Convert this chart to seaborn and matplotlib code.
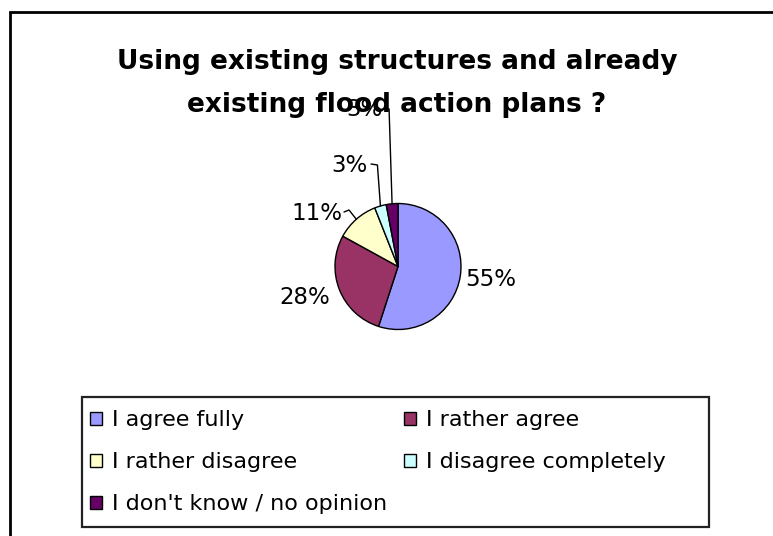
import matplotlib
matplotlib.use("Agg")
import matplotlib.pyplot as plt
from matplotlib.patches import Rectangle, Patch
import numpy as np
import seaborn as sns

# ---- data ----
categories = ["I agree fully", "I rather agree", "I rather disagree",
              "I disagree completely", "I don't know / no opinion"]
values = [55, 28, 11, 3, 3]
pct_labels = ["55%", "28%", "11%", "3%", "3%"]
title_lines = ["Using existing structures and already",
               "existing flood action plans ?"]
colors_hex = ["#9999FF", "#993366", "#FFFFCC", "#CCFFFF", "#660066"]

sns.set_theme(style="white")
plt.rcParams["font.family"] = ["DejaVu Sans"]
plt.rcParams["text.color"] = "black"
palette = sns.color_palette(colors_hex)

W, H = 773, 536
fig = plt.figure(figsize=(W / 100, H / 100), dpi=100)
ax = fig.add_axes([0, 0, 1, 1])

def Y(y):
    return H - y

cx, cy, r = 398, 266.5, 63
wedges, _ = ax.pie(values, colors=palette, startangle=90, counterclock=False,
                   center=(cx, Y(cy)), radius=r,
                   wedgeprops=dict(edgecolor="black", linewidth=1.0))
ax.set_xlim(0, W)
ax.set_ylim(0, H)
ax.set_aspect("auto")
ax.axis("off")

# label layout (pixel coords, y from top)
label_pos = [(465, 280, "left"), (330, 298, "right"), (342, 213, "right"),
             (368, 166, "right"), (383, 110, "right")]
leader = [False, False, True, True, True]
fs_lab = 16.5
for w, txt, (lx, ly, ha), ld in zip(wedges, pct_labels, label_pos, leader):
    ax.text(lx, Y(ly), txt, ha=ha, va="center", fontsize=fs_lab,
            color="black", zorder=5)
    if ld:
        mid = np.deg2rad((w.theta1 + w.theta2) / 2)
        px = cx + r * np.cos(mid)
        py = Y(cy) + r * np.sin(mid)
        if txt == "11%":
            xs = [lx + 2, lx + 7, px]
            ys = [Y(ly - 1), Y(ly - 3), py]
        else:
            xs = [lx + 3, px - 3, px]
            ys = [Y(ly - 2), Y(ly - 1), py]
        ax.plot(xs, ys, color="black", lw=1.0, zorder=4)

# title
ax.text(397.5, Y(69), title_lines[0], ha="center", va="baseline",
        fontsize=19, fontweight="bold", color="black", zorder=10)
ax.text(397, Y(112), title_lines[1], ha="center", va="baseline",
        fontsize=19, fontweight="bold", color="black", zorder=10)

# outer chart border (left & top visible)
ax.plot([9.5, 9.5, W + 5], [-5, Y(11.5), Y(11.5)], color="black", lw=2,
        solid_joinstyle="miter", zorder=1, clip_on=False)

# legend box
ax.add_patch(Rectangle((82, Y(527)), 709 - 82, 527 - 397, fill=False,
                       edgecolor="#222222", lw=1.6, zorder=2))

handles = [Patch(facecolor=c, edgecolor="black", linewidth=1.0) for c in palette]
order = [0, 2, 4, 1, 3]
fs_leg = 16
leg = ax.legend([handles[i] for i in order], [categories[i] for i in order],
                ncol=2, loc="upper left", bbox_to_anchor=(90, Y(410)),
                bbox_transform=ax.transData, frameon=False, fontsize=fs_leg,
                borderpad=0, borderaxespad=0, handlelength=0.54,
                handleheight=0.54, handletextpad=0.45, columnspacing=0.78,
                labelspacing=1.0, labelcolor="black")

fig.savefig("out.png", dpi=100, facecolor="white")
